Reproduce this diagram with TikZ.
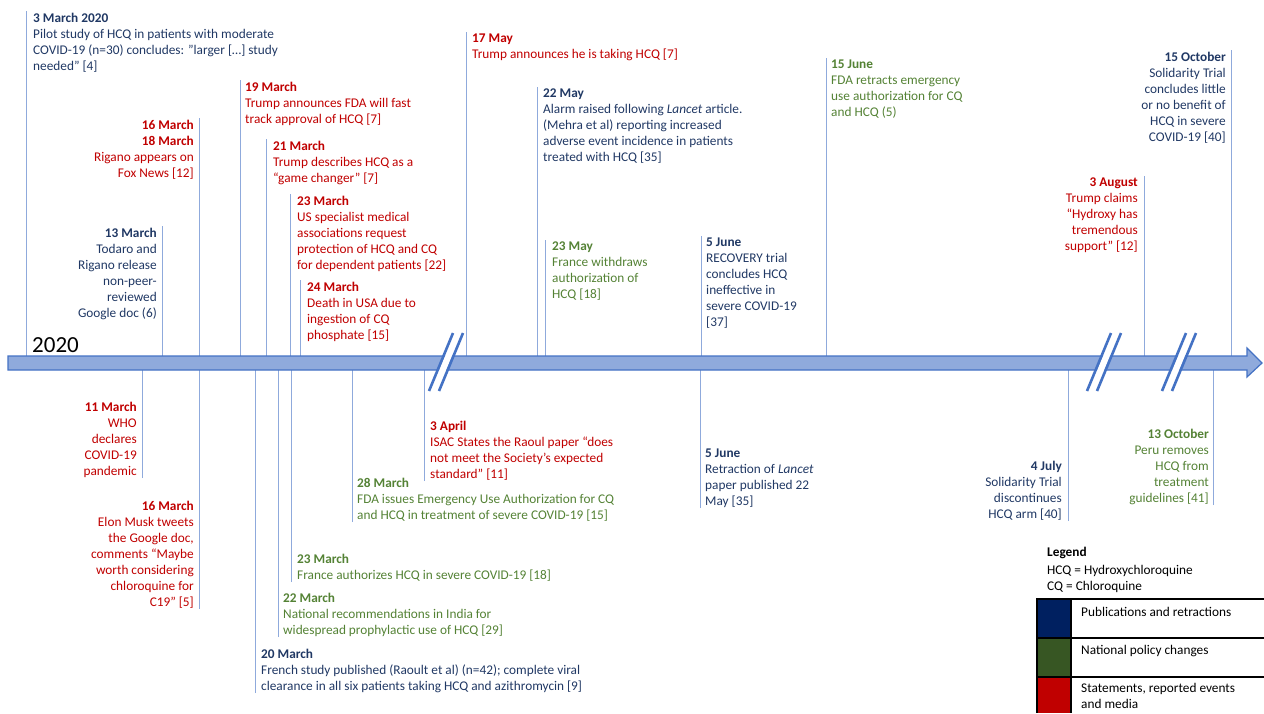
\documentclass[tikz,border=0pt]{standalone}
\usepackage{fontspec}
\setmainfont{Carlito}
\usetikzlibrary{positioning}

\definecolor{pubtxt}{RGB}{32,56,100}
\definecolor{poltxt}{RGB}{84,130,53}
\definecolor{stmtxt}{RGB}{192,0,0}
\definecolor{pubkey}{RGB}{0,32,96}
\definecolor{polkey}{RGB}{55,86,35}
\definecolor{stmkey}{RGB}{192,0,0}
\definecolor{stemblue}{RGB}{143,170,220}
\definecolor{barfill}{RGB}{143,170,220}
\definecolor{barblue}{RGB}{68,114,196}

\newcommand{\evtsize}{\fontsize{13.3}{16}\selectfont}

\tikzset{
  evt/.style={inner sep=0pt, font=\evtsize, align=left},
  pub/.style={evt, text=pubtxt},
  pol/.style={evt, text=poltxt},
  stm/.style={evt, text=stmtxt},
  stem/.style={draw=stemblue, line width=0.8pt},
  brk/.style={draw=barblue, line width=2.6pt},
}

\begin{document}
\begin{tikzpicture}[x=1pt, y=-1pt]
  \useasboundingbox (0,0) rectangle (1264,713);
  \coordinate (axis) at (0,363);

  % Events above the axis
  \coordinate (pilot-s) at (26,11);
  \node[pub, below right=2pt and 7pt of pilot-s] (pilot)
    {\textbf{3 March 2020}\\Pilot study of HCQ in patients with moderate\\COVID-19 (n=30) concludes: ”larger […] study\\needed” [4]};
  \draw[stem] (pilot-s) -- (pilot-s |- axis);

  \coordinate (todaro-s) at (162,226);
  \node[pub, below left=2pt and 5pt of todaro-s, align=right] (todaro)
    {\textbf{13 March}\\Todaro and\\Rigano release\\non-peer-\\reviewed\\Google doc (6)};
  \draw[stem] (todaro-s) -- (todaro-s |- axis);

  \coordinate (rigano-s) at (199,118);
  \node[stm, below left=2pt and 5pt of rigano-s, align=right] (rigano)
    {\textbf{16 March}\\\textbf{18 March}\\Rigano appears on\\Fox News [12]};
  \draw[stem] (rigano-s) -- (rigano-s |- axis);

  \coordinate (fasttrack-s) at (240,80);
  \node[stm, below right=2pt and 5pt of fasttrack-s] (fasttrack)
    {\textbf{19 March}\\Trump announces FDA will fast\\track approval of HCQ [7]};
  \draw[stem] (fasttrack-s) -- (fasttrack-s |- axis);

  \coordinate (gamechanger-s) at (266,139);
  \node[stm, below right=2pt and 7pt of gamechanger-s] (gamechanger)
    {\textbf{21 March}\\Trump describes HCQ as a\\“game changer” [7]};
  \draw[stem] (gamechanger-s) -- (gamechanger-s |- axis);

  \coordinate (assoc-s) at (290,194);
  \node[stm, below right=2pt and 7pt of assoc-s] (assoc)
    {\textbf{23 March}\\US specialist medical\\associations request\\protection of HCQ and CQ\\for dependent patients [22]};
  \draw[stem] (assoc-s) -- (assoc-s |- axis);

  \coordinate (death-s) at (300,280);
  \node[stm, below right=2pt and 7pt of death-s] (death)
    {\textbf{24 March}\\Death in USA due to\\ingestion of CQ\\phosphate [15]};
  \draw[stem] (death-s) -- (death-s |- axis);

  \coordinate (takinghcq-s) at (466,32);
  \node[stm, below right=2pt and 6pt of takinghcq-s] (takinghcq)
    {\textbf{17 May}\\Trump announces he is taking HCQ [7]};
  \draw[stem] (takinghcq-s) -- (takinghcq-s |- axis);

  \coordinate (alarm-s) at (537,87);
  \node[pub, below right=2pt and 6pt of alarm-s] (alarm)
    {\textbf{22 May}\\Alarm raised following \textit{Lancet} article.\\(Mehra et al) reporting increased\\adverse event incidence in patients\\treated with HCQ [35]};
  \draw[stem] (alarm-s) -- (alarm-s |- axis);

  \coordinate (francewd-s) at (545,240);
  \node[pol, below right=2pt and 7pt of francewd-s] (francewd)
    {\textbf{23 May}\\France withdraws\\authorization of\\HCQ [18]};
  \draw[stem] (francewd-s) -- (francewd-s |- axis);

  \coordinate (recovery-s) at (701,236);
  \node[pub, below right=2pt and 5pt of recovery-s] (recovery)
    {\textbf{5 June}\\RECOVERY trial\\concludes HCQ\\ineffective in\\severe COVID-19\\{[37]}};
  \draw[stem] (recovery-s) -- (recovery-s |- axis);

  \coordinate (fdaretract-s) at (826,58);
  \node[pol, below right=2pt and 5pt of fdaretract-s] (fdaretract)
    {\textbf{15 June}\\FDA retracts emergency\\use authorization for CQ\\and HCQ (5)};
  \draw[stem] (fdaretract-s) -- (fdaretract-s |- axis);

  \coordinate (hydroxy-s) at (1144,176);
  \node[stm, below left=2pt and 6pt of hydroxy-s, align=right] (hydroxy)
    {\textbf{3 August}\\Trump claims\\“Hydroxy has\\tremendous\\support” [12]};
  \draw[stem] (hydroxy-s) -- (hydroxy-s |- axis);

  \coordinate (solidarity-s) at (1231,50);
  \node[pub, below left=2pt and 5pt of solidarity-s, align=right] (solidarity)
    {\textbf{15 October}\\Solidarity Trial\\concludes little\\or no benefit of\\HCQ in severe\\COVID-19 [40]};
  \draw[stem] (solidarity-s) -- (solidarity-s |- axis);

  % Events below the axis
  \coordinate (who-s) at (142,478);
  \node[stm, above left=0pt and 5pt of who-s, align=right] (who)
    {\textbf{11 March}\\WHO\\declares\\COVID-19\\pandemic};
  \draw[stem] (who-s) -- (who-s |- axis);

  \coordinate (musk-s) at (199,609);
  \node[stm, above left=0pt and 5pt of musk-s, align=right] (musk)
    {\textbf{16 March}\\Elon Musk tweets\\the Google doc,\\comments “Maybe\\worth considering\\chloroquine for\\C19” [5]};
  \draw[stem] (musk-s) -- (musk-s |- axis);

  \coordinate (raoult-s) at (255,693);
  \node[pub, above right=0pt and 6pt of raoult-s] (raoult)
    {\textbf{20 March}\\French study published (Raoult et al) (n=42); complete viral\\clearance in all six patients taking HCQ and azithromycin [9]};
  \draw[stem] (raoult-s) -- (raoult-s |- axis);

  \coordinate (india-s) at (278,637);
  \node[pol, above right=0pt and 5pt of india-s] (india)
    {\textbf{22 March}\\National recommendations in India for\\widespread prophylactic use of HCQ [29]};
  \draw[stem] (india-s) -- (india-s |- axis);

  \coordinate (franceauth-s) at (291,582);
  \node[pol, above right=0pt and 6pt of franceauth-s] (franceauth)
    {\textbf{23 March}\\France authorizes HCQ in severe COVID-19 [18]};
  \draw[stem] (franceauth-s) -- (franceauth-s |- axis);

  \coordinate (eua-s) at (352,522);
  \node[pol, above right=0pt and 5pt of eua-s] (eua)
    {\textbf{28 March}\\FDA issues Emergency Use Authorization for CQ\\and HCQ in treatment of severe COVID-19 [15]};
  \draw[stem] (eua-s) -- (eua-s |- axis);

  \coordinate (isac-s) at (424,481);
  \node[stm, above right=0pt and 6pt of isac-s] (isac)
    {\textbf{3 April}\\ISAC States the Raoul paper “does\\not meet the Society’s expected\\standard” [11]};
  \draw[stem] (isac-s) -- (isac-s |- axis);

  \coordinate (retraction-s) at (700,508);
  \node[pub, above right=0pt and 5pt of retraction-s] (retraction)
    {\textbf{5 June}\\Retraction of \textit{Lancet}\\paper published 22\\May [35]};
  \draw[stem] (retraction-s) -- (retraction-s |- axis);

  \coordinate (discont-s) at (1068,521);
  \node[pub, above left=0pt and 6pt of discont-s, align=right] (discont)
    {\textbf{4 July}\\Solidarity Trial\\discontinues\\HCQ arm [40]};
  \draw[stem] (discont-s) -- (discont-s |- axis);

  \coordinate (peru-s) at (1213,505);
  \node[pol, above left=0pt and 4pt of peru-s, align=right] (peru)
    {\textbf{13 October}\\Peru removes\\HCQ from\\treatment\\guidelines [41]};
  \draw[stem] (peru-s) -- (peru-s |- axis);

  % Time axis
  \draw[fill=barfill, draw=barblue, line width=1.2pt]
    (8,356) -- (1247,356) -- (1247,348) -- (1262,363) -- (1247,377) -- (1247,370) -- (8,370) -- cycle;
  \node[anchor=north west, inner sep=0pt, font=\fontsize{23}{28}\selectfont] (year) at (32,337) {2020};

  % Axis breaks
  \draw[white, line width=6.5pt] (434,391) -- (458,333);
  \draw[brk] (429,391) -- (453,333);
  \draw[brk] (439,391) -- (463,333);
  \draw[white, line width=6.5pt] (1092,391) -- (1116,333);
  \draw[brk] (1087,391) -- (1111,333);
  \draw[brk] (1097,391) -- (1121,333);
  \draw[white, line width=6.5pt] (1167,391) -- (1191,333);
  \draw[brk] (1162,391) -- (1186,333);
  \draw[brk] (1172,391) -- (1196,333);

  % Legend
  \node[evt, anchor=north west, font=\evtsize\bfseries] (legttl) at (1047,547) {Legend};
  \node[evt, anchor=north west] (abbrev) at (1047,565) {HCQ = Hydroxychloroquine\\CQ = Chloroquine};
  \fill[pubkey] (1037,599) rectangle (1071,638);
  \fill[polkey] (1037,638) rectangle (1071,677);
  \fill[stmkey] (1037,677) rectangle (1071,713);
  \draw[line width=1.2pt] (1264,599) -- (1037,599) -- (1037,713);
  \draw[line width=1.2pt] (1071,599) -- (1071,713);
  \draw[line width=1.2pt] (1037,638) -- (1264,638);
  \draw[line width=1.2pt] (1037,677) -- (1264,677);
  \node[evt, anchor=north west] (pubtext) at (1081,607) {Publications and retractions};
  \node[evt, anchor=north west] (poltext) at (1081,645) {National policy changes};
  \node[evt, anchor=north west] (stmtext) at (1081,683) {Statements, reported events\\and media};

\end{tikzpicture}
\end{document}
